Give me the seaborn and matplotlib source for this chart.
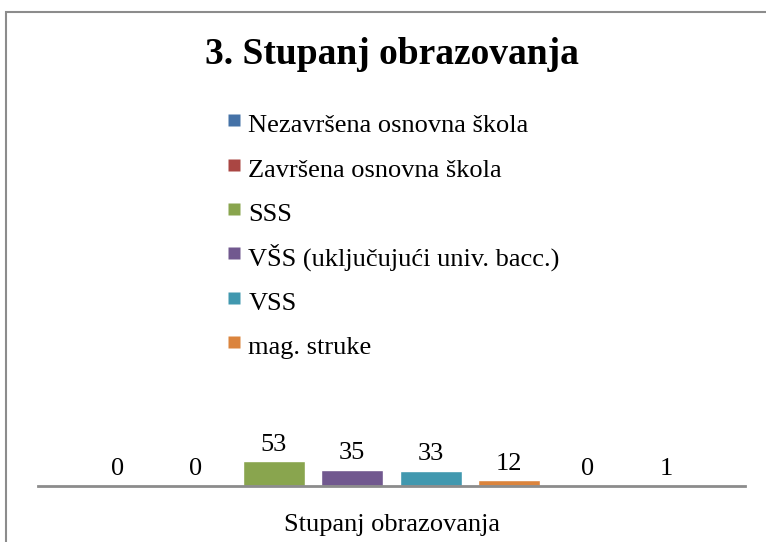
import matplotlib
matplotlib.use("Agg")
import matplotlib.pyplot as plt
from matplotlib.patches import Rectangle
from matplotlib.lines import Line2D
import seaborn as sns
import pandas as pd

# data
razine = ["Nezavršena osnovna škola", "Završena osnovna škola", "SSS",
          "VŠS (uključujući univ. bacc.)", "VSS", "mag. struke",
          "serija 7", "serija 8"]
broj = [0, 0, 53, 35, 33, 12, 0, 1]
boje = ["#4572A7", "#AA4643", "#89A54E", "#71588F", "#4198AF", "#DB843D",
        "#93A9CF", "#D19392"]
kategorija = "Stupanj obrazovanja"
naslov = "3. Stupanj obrazovanja"
u_legendi = 6  # only the first six series are shown in the legend

df = pd.DataFrame({"kategorija": [kategorija] * len(razine),
                   "razina": razine, "broj": broj})

sns.set_style("white")
plt.rcParams["font.family"] = ["Liberation Serif", "DejaVu Serif"]
plt.rcParams["text.color"] = "black"
plt.rcParams["xtick.color"] = "black"

fig = plt.figure(figsize=(7.66, 5.42), dpi=100)
ax = fig.add_axes([38 / 766, 1 - 486 / 542, 707 / 766, 28 / 542])

sns.barplot(data=df, x="kategorija", y="broj", hue="razina", palette=boje,
            width=0.887, gap=0.21, saturation=1, legend=False, ax=ax)
ax.set_xlim(-0.5, 0.5)
ax.set_ylim(0, 60)

for c in ax.containers:
    ax.bar_label(c, fmt="%d", padding=4, fontsize=19, clip_on=False)

for s in ["top", "left", "right"]:
    ax.spines[s].set_visible(False)
ax.spines["bottom"].set_color("#8c8c8c")
ax.spines["bottom"].set_linewidth(2)
ax.set_yticks([])
ax.set_xlabel("")
ax.set_ylabel("")
ax.tick_params(axis="x", length=0, labelsize=19, pad=20)

fig.text(391.5 / 766, 1 - 55 / 542, naslov, ha="center", va="center",
         fontsize=27, fontweight="bold")

handles = [Line2D([], [], marker="s", linestyle="none", markersize=9,
                  markerfacecolor=boje[i], markeredgecolor="none")
           for i in range(u_legendi)]
fig.legend(handles, razine[:u_legendi], loc="upper left",
           bbox_to_anchor=(214 / 766, 1 - 95 / 542), frameon=False,
           fontsize=19, handlelength=0.5, handleheight=1.4,
           handletextpad=0.3, labelspacing=0.525, borderpad=0)

# chart area border (right and bottom edges fall outside the picture)
fig.patches.append(Rectangle((6 / 766, -0.1), 1.2, 1.1 - 12 / 542,
                             transform=fig.transFigure, fill=False,
                             edgecolor="#8c8c8c", linewidth=1.5))

fig.savefig("out.png", dpi=100)
